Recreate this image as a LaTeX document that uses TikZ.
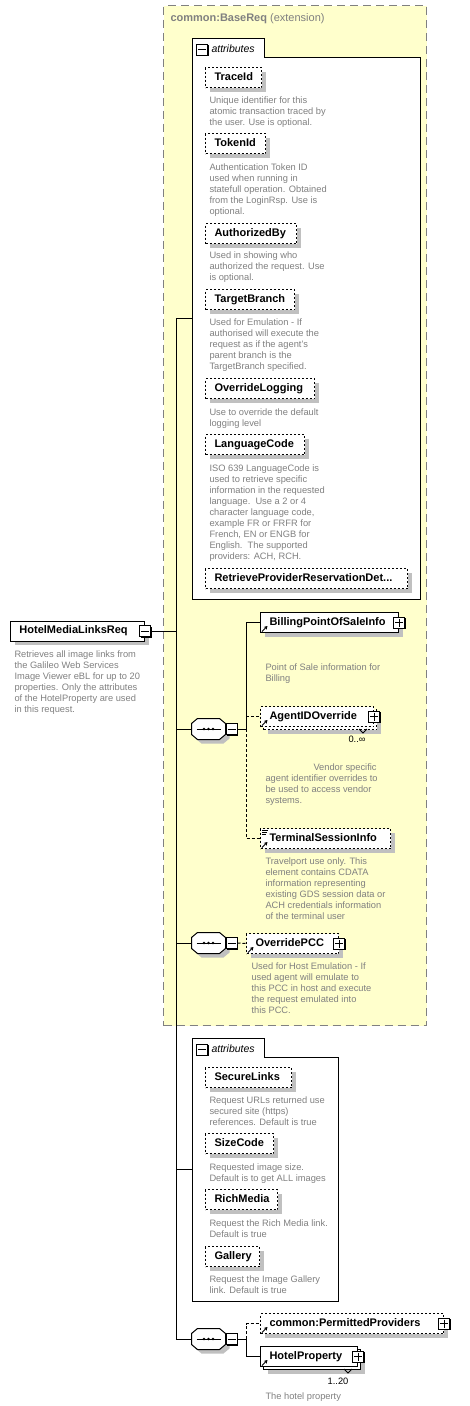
\documentclass[tikz,border=0pt]{standalone}
\usepackage{fontspec}
\setmainfont{Liberation Sans}
\usetikzlibrary{shadows,arrows.meta}
\definecolor{ybg}{HTML}{FFFFCC}
\definecolor{ybd}{HTML}{808080}
\definecolor{dgrey}{HTML}{808080}
\definecolor{shg}{HTML}{C0C0C0}
\newcommand\pmplus[2]{\node[pm] (#1) at (#2) {};
  \draw ([xshift=2pt]#1.west) -- ([xshift=-2pt]#1.east) ([yshift=-2pt]#1.north) -- ([yshift=2pt]#1.south);}
\newcommand\pmminus[2]{\node[pm] (#1) at (#2) {};
  \draw ([xshift=2pt]#1.west) -- ([xshift=-2pt]#1.east);}
\newcommand\refarrow[1]{\draw[line width=1pt,-{Stealth[length=3.5pt,width=4pt]}] ([shift={(2pt,1.5pt)}]#1.south west) -- ++(5.5pt,5.5pt);}
\newcommand\seqshape[1]{%
  \draw[fill=white, general shadow={fill=shg, shadow xshift=4pt, shadow yshift=-4pt}]
    ([xshift=6pt]#1.north west) -- ([xshift=-6pt]#1.north east) -- ([yshift=-5pt]#1.north east)
    -- ([yshift=5pt]#1.south east) -- ([xshift=-6pt]#1.south east) -- ([xshift=6pt]#1.south west)
    -- ([yshift=5pt]#1.south west) -- ([yshift=-5pt]#1.north west) -- cycle;
  \draw ([xshift=5pt]#1.west) -- ([xshift=-5pt]#1.east);
  \fill (#1.center) circle (1.3pt) ([xshift=-4.5pt]#1.center) circle (1.3pt) ([xshift=4.5pt]#1.center) circle (1.3pt);}
\newcommand\areashape[1]{%
  \draw[fill=white] (#1.north west) -- ++(72,0) -- ++(0,19) -- ([yshift=-19pt]#1.north east)
    -- (#1.south east) -- (#1.south west) -- cycle;}
\begin{document}
\begin{tikzpicture}[x=1pt,y=-1pt,line width=1pt,
  namef/.style={font=\fontsize{11}{13}\selectfont\bfseries},
  desc/.style={font=\fontsize{9.3}{11}\selectfont, text=dgrey, align=left, inner sep=0pt, anchor=north west},
  el/.style={draw, fill=white, anchor=north west, minimum height=20pt, inner ysep=0pt, inner xsep=9pt,
    text height=8pt, text depth=2.5pt, align=left, namef,
    execute at begin node={\hyphenpenalty=10000\exhyphenpenalty=10000}},
  shd/.style={general shadow={fill=shg, shadow xshift=4pt, shadow yshift=-4pt}},
  opt/.style={dash pattern=on 2pt off 2pt},
  optline/.style={dash pattern=on 3pt off 2pt},
  multi/.style={general shadow={fill=shg, shadow xshift=7pt, shadow yshift=-7pt},
    general shadow={fill=white, draw=black, shadow xshift=3pt, shadow yshift=-3pt}},
  multiopt/.style={general shadow={fill=shg, shadow xshift=7pt, shadow yshift=-7pt},
    general shadow={fill=white, draw=black, dash pattern=on 2pt off 2pt, shadow xshift=3pt, shadow yshift=-3pt}},
  pm/.style={draw, fill=white, minimum size=11pt, inner sep=0pt,
    general shadow={fill=black, shadow xshift=1pt, shadow yshift=-1pt}},
  seq/.style={minimum width=33pt, minimum height=20pt, inner sep=0pt},
  area/.style={inner sep=0pt, anchor=north west},
  attrl/.style={anchor=west, inner sep=0pt, font=\fontsize{10.5}{12}\selectfont\itshape},
  card/.style={inner sep=0pt, font=\fontsize{9.3}{11}\selectfont}
]
\useasboundingbox (0,0) rectangle (470,1406);

% extension box
\node[draw=ybd, fill=ybg, dash pattern=on 8pt off 5pt, minimum width=263pt, minimum height=1020pt, area] (base) at (163,5) {};
\node[anchor=west, inner sep=0pt, text=dgrey, font=\fontsize{11}{13}\selectfont] (basettl) at (170,19) {\textbf{common:BaseReq} (extension)};

% attributes group 1
\node[area, minimum width=227pt, minimum height=560pt] (attr1) at (192,38) {};
\areashape{attr1}
\pmminus{attr1m}{202,49.5}
\node[attrl] (attr1l) at (211,49) {attributes};

\node[el, opt, shd, text width=38pt] (traceid) at (205,67) {TraceId};
\node[desc] (traceidd) at (209,96) {Unique identifier for this\\atomic transaction traced by\\the user. Use is optional.};
\node[el, opt, shd, text width=42pt] (tokenid) at (205,133) {TokenId};
\node[desc] (tokenidd) at (209,163) {Authentication Token ID\\used when running in\\statefull operation. Obtained\\from the LoginRsp. Use is\\optional.};
\node[el, opt, shd, text width=73pt] (authby) at (205,223) {AuthorizedBy};
\node[desc] (authbyd) at (209,251) {Used in showing who\\authorized the request. Use\\is optional.};
\node[el, opt, shd, text width=71pt] (tbranch) at (205,289) {TargetBranch};
\node[desc] (tbranchd) at (209,318) {Used for Emulation - If\\authorised will execute the\\request as if the agent's\\parent branch is the\\TargetBranch specified.};
\node[el, opt, shd, text width=91pt] (ovlog) at (205,378) {OverrideLogging};
\node[desc] (ovlogd) at (209,408) {Use to override the default\\logging level};
\node[el, opt, shd, text width=81pt] (lang) at (205,434) {LanguageCode};
\node[desc] (langd) at (209,464) {ISO 639 LanguageCode is\\used to retrieve specific\\information in the requested\\language.\ \ Use a 2 or 4\\character language code,\\example FR or FRFR for\\French, EN or ENGB for\\English.\ \ The supported\\providers: ACH, RCH.};
\node[el, opt, shd, text width=184pt] (rprd) at (205,568) {RetrieveProviderReservationDet...};

% root
\node[el, shd, text width=116pt] (root) at (10,620.5) {HotelMediaLinksReq};
\pmminus{rootm}{root.east}
\node[desc] (rootd) at (14,650) {Retrieves all image links from\\the Galileo Web Services\\Image Viewer eBL for up to 20\\properties. Only the attributes\\of the HotelProperty are used\\in this request.};

% spine
\coordinate (spT) at (176,318);
\coordinate (spB) at (176,1339);
\draw (spT) -- (spB);
\draw (rootm.east) -- (rootm.east -| spT);
\draw (spT) -- (spT -| attr1.west);

% sequence 1
\node[seq] (s1) at (208.5,729) {};
\seqshape{s1}
\pmminus{s1m}{[xshift=6pt]s1.east}
\draw (s1.west -| spT) -- (s1.west);
\coordinate (v1) at (246,729);

\node[el, shd, text width=120pt] (bpos) at (260,612) {BillingPointOfSaleInfo};
\refarrow{bpos}
\pmplus{bposp}{bpos.east}
\node[desc] (bposd) at (265,663) {Point of Sale information for\\Billing};

\node[el, opt, multiopt, text width=95pt] (agent) at (260,706) {AgentIDOverride};
\refarrow{agent}
\pmplus{agentp}{agent.east}
\draw[line width=0.8pt] (359,729) -- (363,733) -- (367,729);
\node[card] (agentc) at (357,739) {0..∞};
\node[desc] (agentd) at (265,763) {\hspace*{48pt}Vendor specific\\agent identifier overrides to\\be used to access vendor\\systems.};

\node[el, opt, shd, text width=112pt] (tsi) at (260,828) {TerminalSessionInfo};
\refarrow{tsi}
\draw[line width=0.6pt] ([shift={(2pt,-2pt)}]tsi.north west) -- ++(6pt,0pt)
  ([shift={(2pt,-4pt)}]tsi.north west) -- ++(5pt,0pt)
  ([shift={(2pt,-6pt)}]tsi.north west) -- ++(4pt,0pt);
\node[desc] (tsid) at (265,857) {Travelport use only. This\\element contains CDATA\\information representing\\existing GDS session data or\\ACH credentials information\\of the terminal user};

\draw (s1m.east) -- (v1);
\draw (v1) |- (bpos.west);
\draw[optline] (v1 |- agent.west) -- (agent.west);
\draw[optline] (v1) |- (tsi.west);

% sequence 2
\node[seq] (s2) at (208.5,943) {};
\seqshape{s2}
\pmminus{s2m}{[xshift=6pt]s2.east}
\draw (s2.west -| spT) -- (s2.west);
\node[el, opt, shd, text width=74pt] (opcc) at (246,933) {OverridePCC};
\refarrow{opcc}
\pmplus{opccp}{opcc.east}
\draw[optline] (s2m.east) -- (opcc.west);
\node[desc] (opccd) at (251,962) {Used for Host Emulation - If\\used agent will emulate to\\this PCC in host and execute\\the request emulated into\\this PCC.};

% attributes group 2
\node[area, minimum width=145pt, minimum height=262pt] (attr2) at (192,1038) {};
\areashape{attr2}
\pmminus{attr2m}{202,1049.5}
\node[attrl] (attr2l) at (211,1049) {attributes};
\draw (spT |- 0,1169) coordinate (j2) -- (j2 -| attr2.west);

\node[el, opt, shd, text width=68pt] (slinks) at (205,1067) {SecureLinks};
\node[desc] (slinksd) at (209,1096) {Request URLs returned use\\secured site (https)\\references. Default is true};
\node[el, opt, shd, text width=50pt] (scode) at (205,1133) {SizeCode};
\node[desc] (scoded) at (209,1163) {Requested image size.\\Default is to get ALL images};
\node[el, opt, shd, text width=54pt] (rmedia) at (205,1189) {RichMedia};
\node[desc] (rmediad) at (209,1219) {Request the Rich Media link.\\Default is true};
\node[el, opt, shd, text width=36pt] (gallery) at (205,1246) {Gallery};
\node[desc] (galleryd) at (209,1275) {Request the Image Gallery\\link. Default is true};

% sequence 3
\node[seq] (s3) at (208.5,1339) {};
\seqshape{s3}
\pmminus{s3m}{[xshift=6pt]s3.east}
\draw (s3.west -| spT) -- (s3.west);
\coordinate (v3) at (246,1339);

\node[el, opt, shd, text width=165pt] (perm) at (260,1313) {common:PermittedProviders};
\refarrow{perm}
\pmplus{permp}{perm.east}

\node[el, multi, text width=79pt] (hp) at (260,1346) {HotelProperty};
\refarrow{hp}
\pmplus{hpp}{hp.east}
\draw[line width=0.8pt] (344,1369) -- (348,1373) -- (352,1369);
\node[card] (hpc) at (338,1381) {1..20};
\node[desc] (hpd) at (265,1392) {The hotel property};

\draw (s3m.east) -- (v3);
\draw[optline] (v3) |- (perm.west);
\draw (v3) |- (hp.west);
\end{tikzpicture}
\end{document}
